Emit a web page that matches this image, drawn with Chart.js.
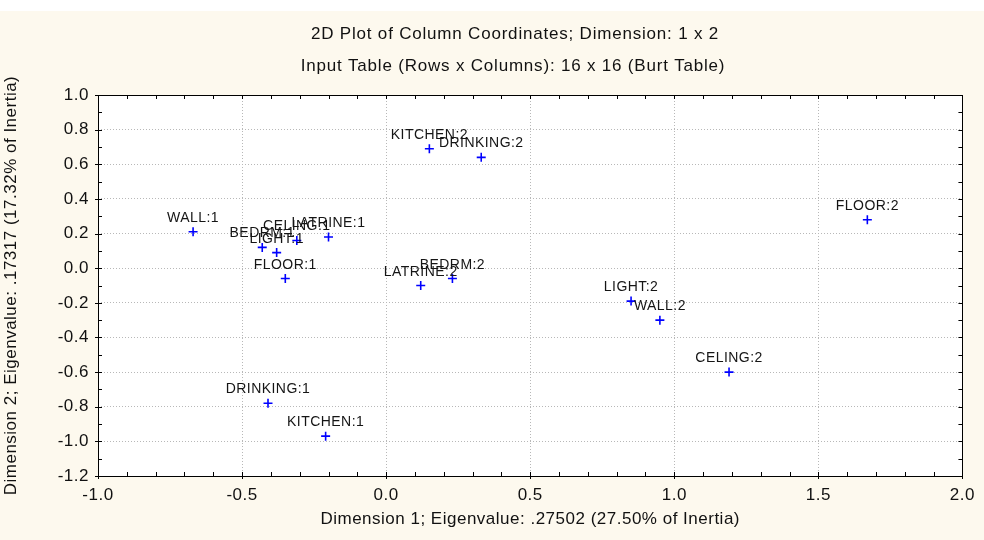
<!DOCTYPE html>
<html>
<head>
<meta charset="utf-8">
<script src="https://cdn.jsdelivr.net/npm/chart.js@4/dist/chart.umd.min.js"></script>
<style>
html,body{margin:0;padding:0;background:#fdf9ee;}
#wrap{width:984px;height:540px;position:relative;}
</style>
</head>
<body>
<div id="wrap"><canvas id="c" width="984" height="540"></canvas></div>
<script>
const pointNames = ["WALL:1","BEDRM:1","LIGHT:1","CELING:1","LATRINE:1","FLOOR:1","DRINKING:1","KITCHEN:1",
                    "KITCHEN:2","DRINKING:2","LATRINE:2","BEDRM:2","LIGHT:2","WALL:2","CELING:2","FLOOR:2"];
const dim1 = [-0.67,-0.43,-0.38,-0.31,-0.20,-0.35,-0.41,-0.21, 0.15,0.33,0.12,0.23,0.85,0.95,1.19,1.67];
const dim2 = [ 0.21, 0.12, 0.09, 0.16, 0.18,-0.06,-0.78,-0.97, 0.69,0.64,-0.10,-0.06,-0.19,-0.30,-0.60,0.28];
const titleLines = ["2D Plot of Column Coordinates; Dimension: 1 x 2","Input Table (Rows x Columns): 16 x 16 (Burt Table)"];
const xTitle = "Dimension 1; Eigenvalue: .27502 (27.50% of Inertia)";
const yTitle = "Dimension 2; Eigenvalue: .17317 (17.32% of Inertia)";
const xRange = {min:-1.0, max:2.0, step:0.5, minor:0.1};
const yRange = {min:-1.2, max:1.0, step:0.2, minor:0.1};

const FONT = "'Liberation Sans', Arial, sans-serif";
const CREAM = "#fdf9ee";

const points = dim1.map((x,i)=>({x:x, y:dim2[i], name:pointNames[i]}));

function spacing(chart){ try{ chart.ctx.letterSpacing = '0.5px'; }catch(e){} }

const bgPlugin = {
  id:'bg',
  beforeUpdate(chart){ spacing(chart); },
  beforeLayout(chart){ spacing(chart); },
  beforeDraw(chart){
    spacing(chart);
    const {ctx, chartArea:a} = chart;
    ctx.save();
    ctx.fillStyle = CREAM;
    ctx.fillRect(0,0,chart.width,chart.height);
    ctx.fillStyle = "#ffffff";
    ctx.fillRect(0,0,chart.width,11);
    ctx.fillRect(a.left,a.top,a.right-a.left,a.bottom-a.top);
    ctx.restore();
  },
  afterDraw(chart){
    const {ctx, chartArea:a, scales} = chart;
    ctx.save();
    ctx.strokeStyle = "#000";
    ctx.lineWidth = 1;
    ctx.strokeRect(Math.round(a.left)+0.5, Math.round(a.top)+0.5, Math.round(a.right-a.left), Math.round(a.bottom-a.top));
    ctx.beginPath();
    const nx = Math.round((xRange.max-xRange.min)/xRange.minor);
    for(let i=0;i<=nx;i++){
      const v = xRange.min + i*xRange.minor;
      const px = Math.round(scales.x.getPixelForValue(v))+0.5;
      ctx.moveTo(px,a.bottom); ctx.lineTo(px,a.bottom-4);
      ctx.moveTo(px,a.top); ctx.lineTo(px,a.top+4);
      if(i%5===0){ ctx.moveTo(px,a.bottom); ctx.lineTo(px,a.bottom+3); }
    }
    const ny = Math.round((yRange.max-yRange.min)/yRange.minor);
    for(let i=0;i<=ny;i++){
      const v = yRange.min + i*yRange.minor;
      const py = Math.round(scales.y.getPixelForValue(v))+0.5;
      ctx.moveTo(a.left,py); ctx.lineTo(a.left+4,py);
      ctx.moveTo(a.right,py); ctx.lineTo(a.right-4,py);
      if(i%2===0){ ctx.moveTo(a.left,py); ctx.lineTo(a.left-3,py); }
    }
    ctx.stroke();
    ctx.fillStyle = "#111";
    ctx.font = "17px " + FONT;
    ctx.letterSpacing = '0.8px';
    ctx.textAlign = "center";
    ctx.textBaseline = "middle";
    ctx.fillText(titleLines[0], 515, 34);
    ctx.fillText(titleLines[1], 513, 66);
    ctx.restore();
  },
  afterDatasetsDraw(chart){
    const {ctx} = chart;
    const meta = chart.getDatasetMeta(0);
    ctx.save();
    ctx.fillStyle = "#151515";
    ctx.font = "14px " + FONT;
    ctx.letterSpacing = '0.45px';
    ctx.textAlign = "center";
    ctx.textBaseline = "alphabetic";
    meta.data.forEach((el,i)=>{
      ctx.fillText(points[i].name, el.x, el.y - 10);
    });
    ctx.restore();
  }
};

new Chart(document.getElementById('c'), {
  type:'scatter',
  data:{ datasets:[{
    data: points,
    pointStyle:'cross',
    radius:4.5,
    hoverRadius:4.5,
    borderColor:'#0000ff',
    backgroundColor:'#0000ff',
    borderWidth:1.6
  }]},
  options:{
    responsive:false,
    animation:false,
    events:[],
    layout:{padding:{top:95,right:17,left:0,bottom:0}},
    plugins:{legend:{display:false},tooltip:{enabled:false},title:{display:false}},
    scales:{
      x:{
        type:'linear', min:xRange.min, max:xRange.max,
        afterFit(s){ s.height = 64; },
        ticks:{stepSize:xRange.step, padding:9, color:'#111', font:{family:FONT,size:17},
               callback:v=>Number(v).toFixed(1), maxRotation:0},
        grid:{color:'#b8b8b8', lineWidth:1, drawTicks:false},
        border:{display:false, dash:[1,2]},
        title:{display:true, text:xTitle, color:'#111', font:{family:FONT,size:17}, padding:{top:0,bottom:10}}
      },
      y:{
        type:'linear', min:yRange.min, max:yRange.max,
        afterFit(s){ s.width = 98; },
        ticks:{stepSize:yRange.step, padding:9, color:'#111', font:{family:FONT,size:17},
               callback:v=>Number(v).toFixed(1)},
        grid:{color:'#b8b8b8', lineWidth:1, drawTicks:false},
        border:{display:false, dash:[1,2]},
        title:{display:true, text:yTitle, color:'#111', font:{family:FONT,size:17}, padding:{top:1,bottom:0}}
      }
    }
  },
  plugins:[bgPlugin]
});
</script>
</body>
</html>
